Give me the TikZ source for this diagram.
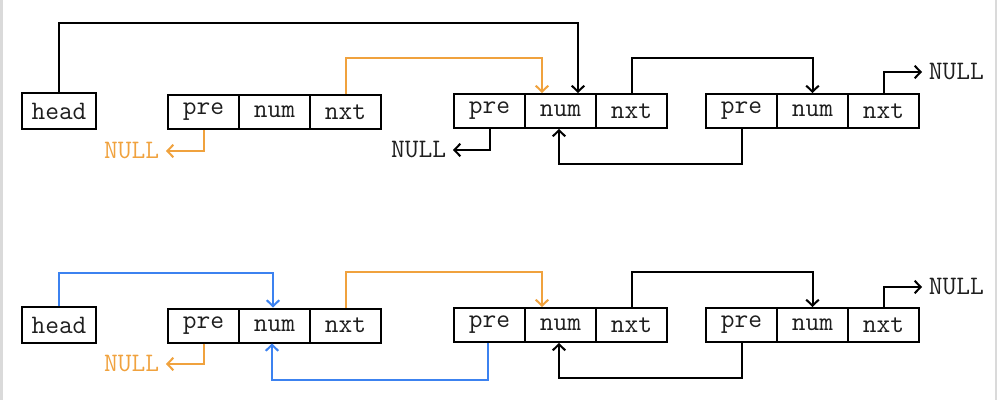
\documentclass[tikz,border=0pt]{standalone}
\usetikzlibrary{arrows.meta}
\definecolor{lgorange}{RGB}{240,162,62}
\definecolor{lgblue}{RGB}{60,130,240}
\definecolor{lggray}{RGB}{218,218,218}
\definecolor{lgtext}{RGB}{30,30,30}
\begin{document}
\begin{tikzpicture}[x=0.75pt,y=-0.75pt,
  txt/.style={font=\ttfamily\fontsize{20}{23}\selectfont},
  cell/.style={txt, text=lgtext, draw=black, line width=1.5pt, minimum width=53.25pt,
    minimum height=25.5pt, inner sep=0pt, anchor=center},
  headbox/.style={cell, minimum width=55.5pt, minimum height=27pt},
  link/.style={line width=1.5pt, -{Straight Barb[length=4.5pt,width=9.5pt]}},
  nulltext/.style={txt, inner sep=0pt, inner xsep=5pt}
]
\useasboundingbox (0,0) rectangle (1000,400);
\draw[lggray, line width=1.5pt] (1.5,0) -- (1.5,400);
\draw[lggray, line width=1.5pt] (996,0) -- (996,400);

% ---------- top row ----------
\node[headbox] (h1) at (59,111) {head};
\node[cell] (a1p) at (203.5,112) {pre};
\node[cell] (a1n) at (274.5,112) {num};
\node[cell] (a1x) at (345.5,112) {nxt};
\node[cell] (b2p) at (489.5,111) {pre};
\node[cell] (b2n) at (560.5,111) {num};
\node[cell] (b2x) at (631.5,111) {nxt};
\node[cell] (c3p) at (741.5,111) {pre};
\node[cell] (c3n) at (812.5,111) {num};
\node[cell] (c3x) at (883.5,111) {nxt};
\node[nulltext, text=lgorange, anchor=east] (n1) at (166,151) {NULL};
\node[nulltext, text=lgtext, anchor=east] (n2) at (453,150) {NULL};
\node[nulltext, text=lgtext, anchor=west] (n3) at (922,72) {NULL};

\draw[link] (h1.north) -- (h1.north |- 0,23) -| (b2n.north -| 578,0);
\draw[link, lgorange] (a1x.north) -- (a1x.north |- 0,58) -| (b2n.north -| 542,0);
\draw[link, lgorange] (a1p.south) |- (n1.east);
\draw[link] (b2p.south) |- (n2.east);
\draw[link] (b2x.north) -- (b2x.north |- 0,58) -| (c3n.north);
\draw[link] (c3p.south) -- (c3p.south |- 0,164) -| (b2n.south -| 559,0);
\draw[link] (c3x.north) |- (n3.west);

% ---------- bottom row ----------
\node[headbox] (h2) at (59,325) {head};
\node[cell] (e1p) at (203.5,325.5) {pre};
\node[cell] (e1n) at (274.5,325.5) {num};
\node[cell] (e1x) at (345.5,325.5) {nxt};
\node[cell] (f2p) at (489.5,325) {pre};
\node[cell] (f2n) at (560.5,325) {num};
\node[cell] (f2x) at (631.5,325) {nxt};
\node[cell] (g3p) at (741.5,325) {pre};
\node[cell] (g3n) at (812.5,325) {num};
\node[cell] (g3x) at (883.5,325) {nxt};
\node[nulltext, text=lgorange, anchor=east] (n4) at (166,364) {NULL};
\node[nulltext, text=lgtext, anchor=west] (n6) at (922,287) {NULL};

\draw[link, lgblue] (h2.north) -- (h2.north |- 0,273) -| (e1n.north -| 273,0);
\draw[link, lgorange] (e1x.north) -- (e1x.north |- 0,272) -| (f2n.north -| 542,0);
\draw[link, lgorange] (e1p.south) |- (n4.east);
\draw[link, lgblue] (f2p.south -| 488,0) -- (488,380) -| (e1n.south -| 272,0);
\draw[link] (f2x.north) -- (f2x.north |- 0,272) -| (g3n.north);
\draw[link] (g3p.south) -- (g3p.south |- 0,378) -| (f2n.south -| 559,0);
\draw[link] (g3x.north) |- (n6.west);
\end{tikzpicture}
\end{document}
